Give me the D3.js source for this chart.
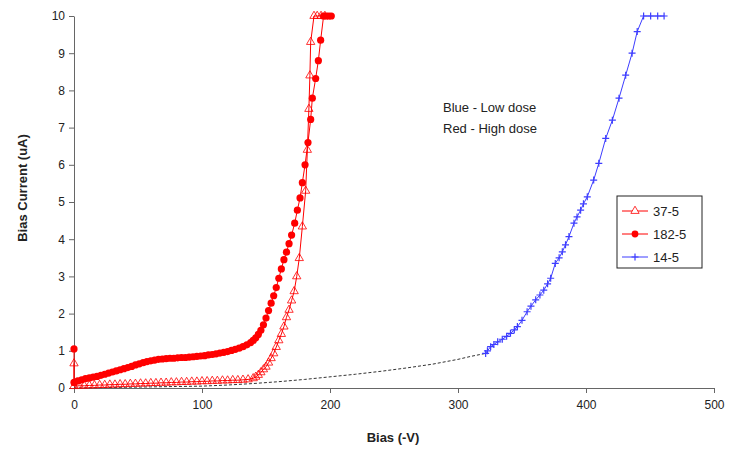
<!DOCTYPE html>
<html>
<head>
<meta charset="utf-8">
<script src="https://cdn.jsdelivr.net/npm/d3@7"></script>
<style>
  body { margin: 0; background: #fff; }
  text { font-family: "Liberation Sans", Arial, sans-serif; }
</style>
</head>
<body>
<svg></svg>
<script>
// 37-5 (high dose, open triangles): [bias (-V), current (uA)]
const series37 = [
  [0, 0.66], [0, 0.05], [4, 0.06], [8, 0.06], [12, 0.07], [16, 0.07], [20, 0.08], [24, 0.08],
  [28, 0.09], [32, 0.09], [36, 0.10], [40, 0.10], [44, 0.11], [48, 0.11], [52, 0.12], [56, 0.12],
  [60, 0.13], [64, 0.13], [68, 0.14], [72, 0.14], [76, 0.15], [80, 0.15], [84, 0.16], [88, 0.16],
  [92, 0.17], [96, 0.17], [100, 0.18], [104, 0.18], [108, 0.19], [112, 0.19], [116, 0.2], [120, 0.2],
  [124, 0.21], [128, 0.21], [132, 0.22], [136, 0.23], [140, 0.26], [142, 0.3], [144, 0.35], [146, 0.42],
  [148, 0.5], [150, 0.57], [152, 0.68], [154, 0.8], [156, 0.93], [158, 1.1], [160, 1.28], [162, 1.45],
  [164, 1.65], [166, 1.9], [168, 2.1], [170, 2.35], [172, 2.6], [174, 3.0], [176, 3.49], [178.4, 4.34],
  [181, 5.3], [182.3, 6.4], [183.5, 7.5], [184.3, 8.4], [184.9, 9.3], [187.5, 10], [190, 10], [193, 10], [196, 10]
]

// 182-5 (high dose, filled circles)
const series182 = [
  [0, 1.05], [0, 0.15], [3, 0.19], [6, 0.22], [9, 0.25], [12, 0.27], [15, 0.29], [18, 0.31],
  [21, 0.34], [24, 0.37], [27, 0.40], [30, 0.43], [33, 0.46], [36, 0.49], [39, 0.52], [42, 0.55],
  [45, 0.58], [48, 0.62], [51, 0.65], [54, 0.68], [57, 0.71], [60, 0.73], [63, 0.75], [66, 0.77],
  [69, 0.78], [72, 0.79], [75, 0.80], [78, 0.80], [81, 0.81], [84, 0.82], [87, 0.82], [90, 0.83],
  [93, 0.84], [96, 0.85], [99, 0.86], [102, 0.87], [105, 0.89], [108, 0.90], [111, 0.92], [114, 0.94],
  [117, 0.96], [120, 0.98], [123, 1.01], [126, 1.04], [129, 1.07], [132, 1.11], [135, 1.16], [138, 1.22],
  [140, 1.28], [142, 1.35], [144, 1.44], [146, 1.55], [148, 1.7], [150, 1.88], [152, 2.08], [154, 2.28],
  [156, 2.48], [158, 2.7], [160, 2.95], [162, 3.2], [164, 3.45], [166, 3.65], [168, 3.88], [170, 4.11],
  [172.4, 4.43], [174.5, 4.78], [176.6, 5.11], [178.4, 5.52], [180.5, 6.0], [182.8, 6.6], [184.9, 7.22],
  [186.2, 7.79], [188.8, 8.32], [190.9, 8.8], [192.7, 9.35], [195, 10], [197, 10], [199, 10], [201, 10]
]

// 14-5 low-current part (dark dashed, no markers)
const series14Low = [
  [0, 0.0], [20, 0.01], [40, 0.02], [60, 0.03], [80, 0.04], [100, 0.05], [120, 0.08], [140, 0.12],
  [160, 0.17], [180, 0.23], [200, 0.30], [220, 0.37], [240, 0.45], [260, 0.54], [280, 0.64],
  [300, 0.77], [310, 0.85], [321.6, 0.93]
]

// 14-5 (low dose, plus markers)
const series14 = [
  [321.6, 0.93], [323, 1.0], [325.5, 1.11], [328, 1.17], [331, 1.24], [334.6, 1.31], [338, 1.39],
  [341, 1.47], [344, 1.56], [346.4, 1.65], [350, 1.82], [354, 2.05], [357, 2.2], [360.7, 2.37],
  [364, 2.5], [367, 2.63], [370, 2.8], [372.4, 2.95], [376, 3.35], [379, 3.5], [381.5, 3.66],
  [384, 3.85], [386.7, 4.07], [390.6, 4.43], [393, 4.6], [395.8, 4.78], [398, 4.95], [401, 5.14],
  [406, 5.59], [410, 6.04], [415.4, 6.71], [420.6, 7.2], [425.8, 7.79], [431, 8.41], [436, 9.0],
  [440, 9.58], [445, 10], [450.5, 10], [456, 10], [461, 10]
]

const xTicks = [0, 100, 200, 300, 400, 500]
const yTicks = [0, 1, 2, 3, 4, 5, 6, 7, 8, 9, 10]
const legendNames = ['37-5', '182-5', '14-5']
const noteLines = ['Blue - Low dose', 'Red - High dose']

const width = 733
const height = 454
const margin = { top: 16, right: 19, bottom: 66, left: 74 }
const red = '#ff0000'
const blue = '#3d3dff'
const axisColor = '#666'

const svg = d3.select('svg')
  .attr('width', width)
  .attr('height', height)
  .attr('viewBox', [0, 0, width, height])

const x = d3.scaleLinear().domain([0, 500]).range([margin.left, width - margin.right])
const y = d3.scaleLinear().domain([0, 10]).range([height - margin.bottom, margin.top])

// 坐标轴
svg.append('g')
  .attr('transform', `translate(0,${y(0)})`)
  .call(d3.axisBottom(x).tickValues(xTicks).tickSize(5).tickPadding(7).tickSizeOuter(0))
  .call(g => g.selectAll('.domain, .tick line').attr('stroke', axisColor))
  .call(g => g.selectAll('.tick text').attr('font-size', 12).attr('fill', '#222'))

svg.append('g')
  .attr('transform', `translate(${x(0)},0)`)
  .call(d3.axisLeft(y).tickValues(yTicks).tickSize(5).tickPadding(4).tickSizeOuter(0))
  .call(g => g.selectAll('.domain, .tick line').attr('stroke', axisColor))
  .call(g => g.selectAll('.tick text').attr('font-size', 12).attr('fill', '#222'))

// 轴标题
svg.append('text')
  .text('Bias (-V)')
  .attr('x', 393)
  .attr('y', 442)
  .attr('text-anchor', 'middle')
  .attr('font-size', 13)
  .attr('font-weight', 'bold')
  .attr('fill', '#222')

svg.append('text')
  .text('Bias Current (uA)')
  .attr('transform', 'translate(27,188) rotate(-90)')
  .attr('text-anchor', 'middle')
  .attr('font-size', 13)
  .attr('font-weight', 'bold')
  .attr('fill', '#222')

const line = d3.line().x(d => x(d[0])).y(d => y(d[1]))
const triangle = d3.symbol(d3.symbolTriangle, 30)
const plus = 'M-3.5,0H3.5M0,-3.5V3.5'

// 14-5 虚线段
svg.append('path')
  .datum(series14Low)
  .attr('d', line)
  .attr('fill', 'none')
  .attr('stroke', '#333')
  .attr('stroke-width', 1)
  .attr('stroke-dasharray', '3,2')

// 14-5
svg.append('path')
  .datum(series14)
  .attr('d', line)
  .attr('fill', 'none')
  .attr('stroke', blue)
  .attr('stroke-width', 1)

svg.append('g')
  .selectAll('path')
  .data(series14)
  .join('path')
  .attr('d', plus)
  .attr('transform', d => `translate(${x(d[0])},${y(d[1])})`)
  .attr('stroke', blue)
  .attr('stroke-width', 1.2)

// 37-5
svg.append('path')
  .datum(series37)
  .attr('d', line)
  .attr('fill', 'none')
  .attr('stroke', red)
  .attr('stroke-width', 1)

svg.append('g')
  .selectAll('path')
  .data(series37)
  .join('path')
  .attr('d', triangle)
  .attr('transform', d => `translate(${x(d[0])},${y(d[1])})`)
  .attr('fill', 'none')
  .attr('stroke', red)
  .attr('stroke-width', 0.8)

// 182-5
svg.append('path')
  .datum(series182)
  .attr('d', line)
  .attr('fill', 'none')
  .attr('stroke', red)
  .attr('stroke-width', 1)

svg.append('g')
  .selectAll('circle')
  .data(series182)
  .join('circle')
  .attr('cx', d => x(d[0]))
  .attr('cy', d => y(d[1]))
  .attr('r', 3.6)
  .attr('fill', red)

// 注释
svg.append('g')
  .selectAll('text')
  .data(noteLines)
  .join('text')
  .text(d => d)
  .attr('x', 443)
  .attr('y', (d, i) => 112 + i * 21)
  .attr('font-size', 13)
  .attr('fill', '#222')

// 图例
const legend = svg.append('g').attr('transform', 'translate(617,196)')

legend.append('rect')
  .attr('width', 85)
  .attr('height', 72)
  .attr('fill', '#fff')
  .attr('stroke', '#222')
  .attr('stroke-width', 1)

const rows = legend.selectAll('g')
  .data(legendNames)
  .join('g')
  .attr('transform', (d, i) => `translate(0,${15 + i * 23})`)

rows.append('line')
  .attr('x1', 5)
  .attr('x2', 31)
  .attr('stroke', (d, i) => i === 2 ? blue : red)
  .attr('stroke-width', 1)

rows.each(function (d, i) {
  const g = d3.select(this)
  if (i === 0) {
    g.append('path').attr('d', triangle).attr('transform', 'translate(18,0)')
      .attr('fill', '#fff').attr('stroke', red).attr('stroke-width', 0.8)
  } else if (i === 1) {
    g.append('circle').attr('cx', 18).attr('r', 3.4).attr('fill', red)
  } else {
    g.append('path').attr('d', plus).attr('transform', 'translate(18,0)')
      .attr('stroke', blue).attr('stroke-width', 1.2)
  }
})

rows.append('text')
  .text(d => d)
  .attr('x', 36)
  .attr('dy', '0.35em')
  .attr('font-size', 13)
  .attr('fill', '#222')
</script>
</body>
</html>
